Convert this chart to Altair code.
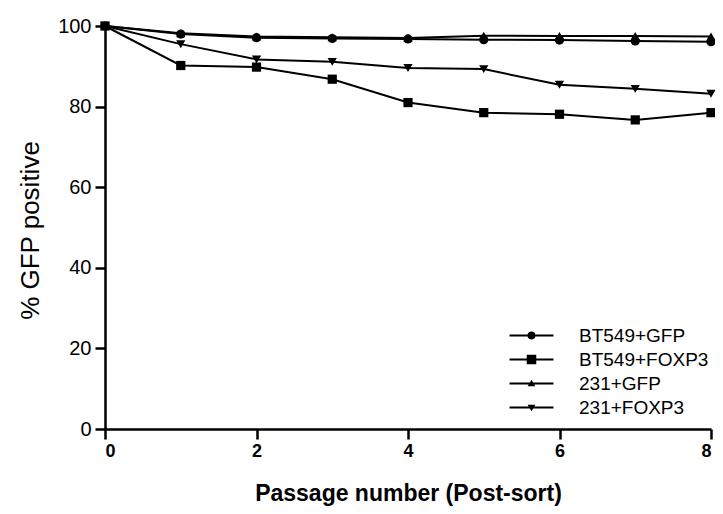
import math
import altair as alt
import pandas as pd

passage = [0, 1, 2, 3, 4, 5, 6, 7, 8]
series_names = ["BT549+GFP", "BT549+FOXP3", "231+GFP", "231+FOXP3"]
bt549_gfp = [100, 98.0, 97.1, 96.9, 96.8, 96.6, 96.5, 96.3, 96.1]
bt549_foxp3 = [100, 90.2, 89.8, 86.8, 81.0, 78.5, 78.1, 76.7, 78.5]
mda231_gfp = [100, 98.2, 97.4, 97.2, 97.0, 97.6, 97.5, 97.5, 97.4]
mda231_foxp3 = [100, 95.5, 91.7, 91.1, 89.6, 89.3, 85.4, 84.4, 83.2]
x_ticks = [0, 2, 4, 6, 8]
y_ticks = [0, 20, 40, 60, 80, 100]

rows = []
for name, vals in zip(series_names, [bt549_gfp, bt549_foxp3, mda231_gfp, mda231_foxp3]):
    for p, v in zip(passage, vals):
        rows.append({"passage": p, "value": v, "series": name})
df = pd.DataFrame(rows)


def poly(points):
    return "M" + "L".join(f"{x:.3f},{y:.3f}" for x, y in points) + "Z"


# legend glyphs: a thin filled bar (the line) plus the marker, all filled, same winding
LINE = poly([(-3.14, -0.15), (3.14, -0.15), (3.14, 0.15), (-3.14, 0.15)])
circle_pts = [(0.58 * math.cos(2 * math.pi * k / 20), 0.58 * math.sin(2 * math.pi * k / 20)) for k in range(20)]
marker_shapes = ["circle", "square", "triangle-up", "triangle-down"]
legend_shapes = [
    LINE + poly(circle_pts),
    LINE + poly([(-0.68, -0.68), (0.68, -0.68), (0.68, 0.68), (-0.68, 0.68)]),
    LINE + poly([(0, -0.55), (0.55, 0.4), (-0.55, 0.4)]),
    LINE + poly([(0, 0.55), (-0.55, -0.4), (0.55, -0.4)]),
]

FONT = "Liberation Sans"

x_enc = alt.X(
    "passage:Q",
    scale=alt.Scale(domain=[0, 8], nice=False, zero=False),
    axis=alt.Axis(
        values=x_ticks,
        title="Passage number (Post-sort)",
        titleFont=FONT,
        titleFontSize=23,
        titleFontWeight="bold",
        titleColor="black",
        titleY=71,
        titleBaseline="alphabetic",
        labelFont=FONT,
        labelFontSize=18,
        labelFontWeight="bold",
        labelPadding=3,
    ),
)
y_enc = alt.Y(
    "value:Q",
    scale=alt.Scale(domain=[0, 100], nice=False),
    axis=alt.Axis(
        values=y_ticks,
        title="% GFP positive",
        titleFont=FONT,
        titleFontSize=26,
        titleFontWeight="normal",
        titleColor="black",
        titleAngle=-90,
        titleX=-75,
        titleY=204,
        titleAlign="center",
        titleBaseline="middle",
        labelFont=FONT,
        labelFontSize=20,
        labelPadding=4,
    ),
)

base = alt.Chart(df)

lines = base.mark_line(color="black", strokeWidth=2).encode(
    x=x_enc, y=y_enc, detail="series:N"
)

points = base.mark_point(filled=True, color="black", size=85, opacity=1).encode(
    x=x_enc,
    y=y_enc,
    shape=alt.Shape(
        "series:N",
        scale=alt.Scale(domain=series_names, range=marker_shapes),
        legend=None,
    ),
)

legend_layer = (
    base.transform_filter("datum.passage < 0")
    .transform_calculate(entry="datum.series")
    .mark_point(filled=True, color="black", opacity=1)
    .encode(
        x=x_enc,
        y=y_enc,
        shape=alt.Shape(
            "entry:N",
            scale=alt.Scale(domain=series_names, range=legend_shapes),
            legend=alt.Legend(
                title=None,
                orient="none",
                legendX=417,
                legendY=300,
                symbolSize=196,
                symbolFillColor="black",
                symbolOpacity=1,
                labelFont=FONT,
                labelFontSize=19,
                labelColor="black",
                labelOffset=38,
                rowPadding=4,
                padding=0,
            ),
        ),
    )
)

chart = (
    alt.layer(lines, points, legend_layer)
    .resolve_scale(shape="independent")
    .resolve_legend(shape="independent")
    .properties(
        width=606,
        height=403,
        autosize=alt.AutoSizeParams(type="none"),
        padding={"left": 97, "top": 18, "right": 4, "bottom": 77},
        background="white",
    )
    .configure_view(stroke=None)
    .configure_axis(
        grid=False,
        domainColor="black",
        domainWidth=2.5,
        tickColor="black",
        tickWidth=2.5,
        tickSize=10,
        labelColor="black",
    )
)

chart.save("out.html", embed_options={"renderer": "svg", "actions": False})
